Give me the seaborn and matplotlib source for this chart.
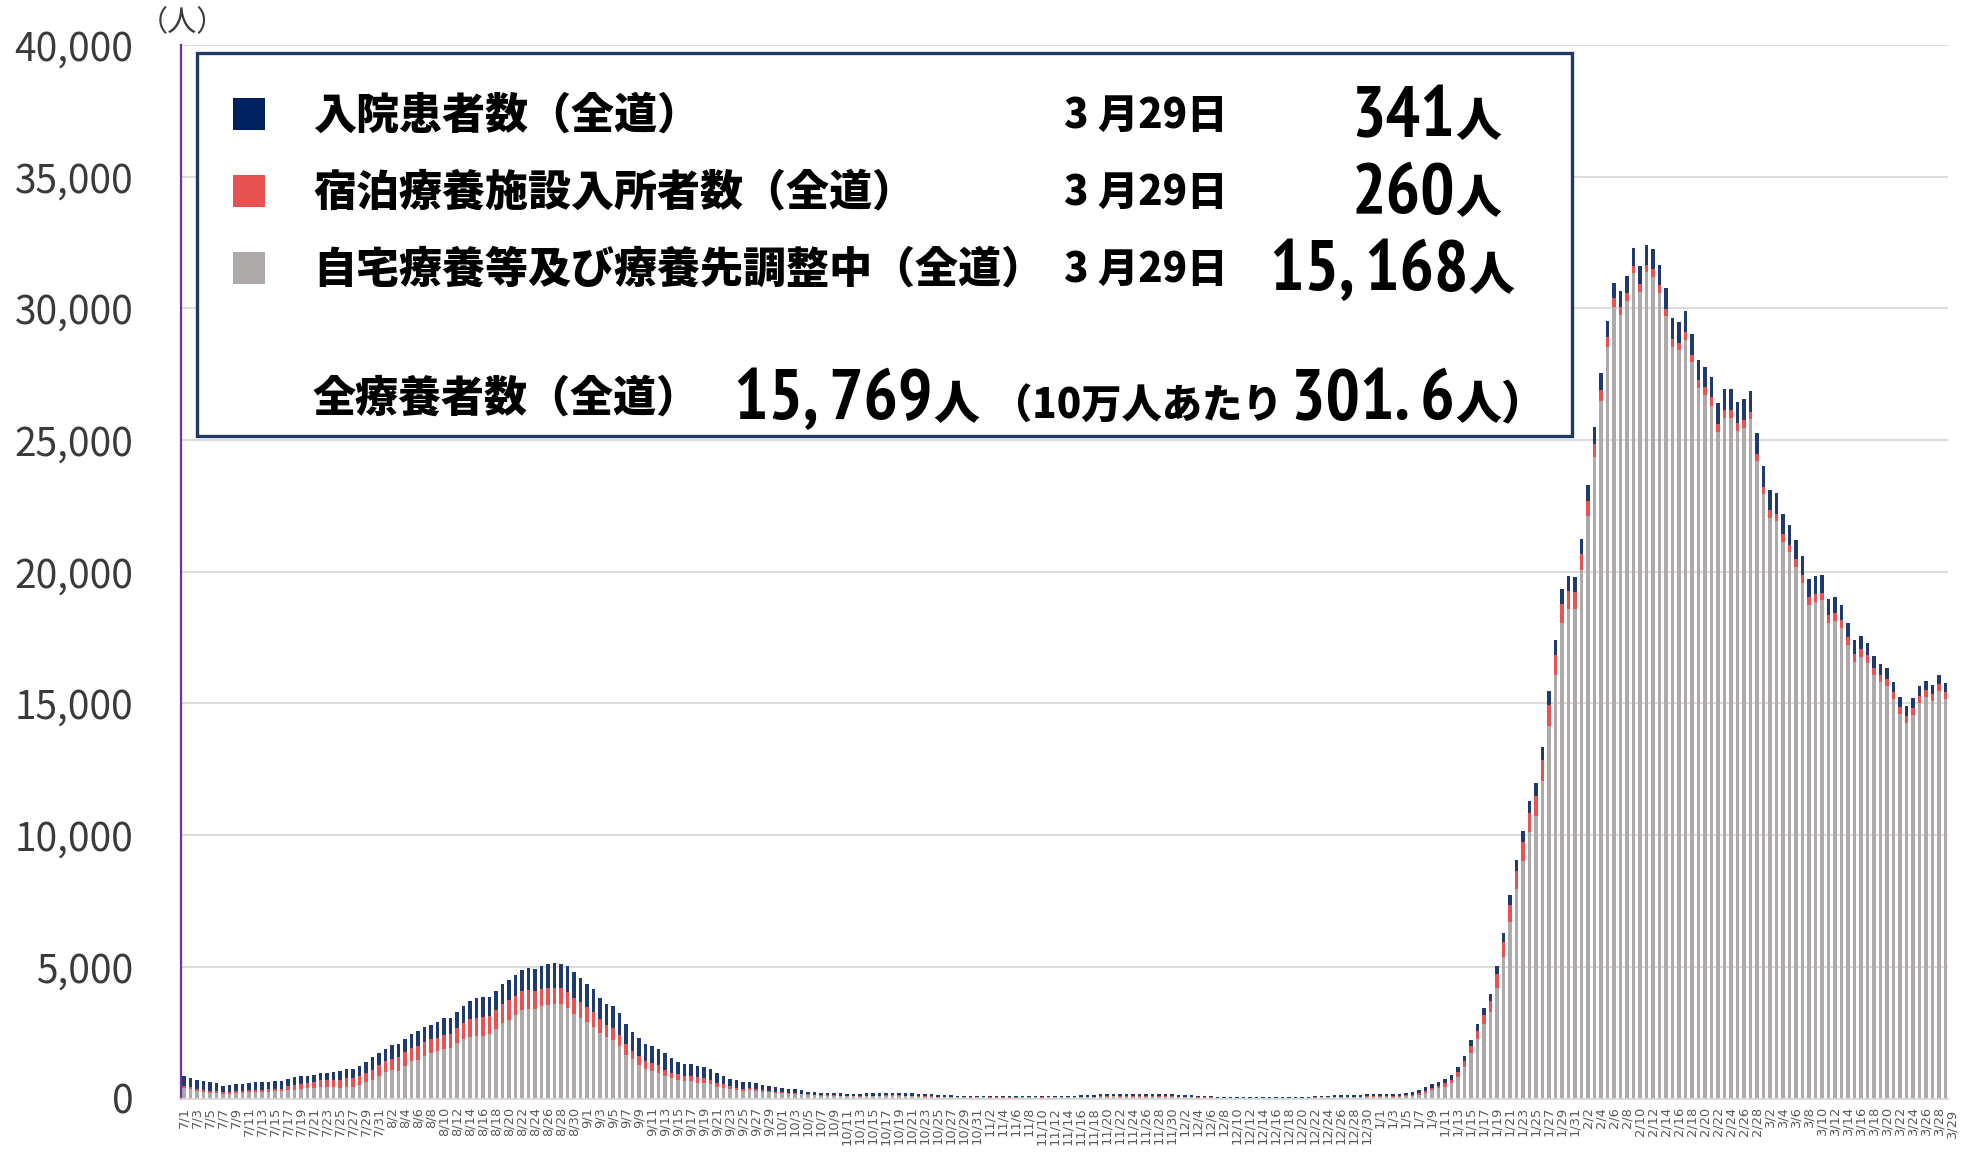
import matplotlib
matplotlib.use("Agg")
import matplotlib.pyplot as plt
import seaborn as sns
import pandas as pd
import numpy as np
from matplotlib.patches import Rectangle
from matplotlib import font_manager
from matplotlib.font_manager import FontProperties
from matplotlib.transforms import ScaledTranslation

# ---------------- data ----------------
dates = pd.date_range("2021-07-01", "2022-03-29", freq="D")
date_labels = [f"{d.month}/{d.day}" for d in dates]

# 入院患者数（全道）
hospital = [
    380, 354, 354, 342, 342, 316, 253, 279, 266, 266,
    291, 292, 291, 278, 279, 291, 279, 317, 304, 279,
    266, 291, 303, 341, 367, 367, 367, 380, 406, 481,
    469, 468, 519, 494, 519, 532, 569, 557, 532, 621,
    645, 607, 620, 645, 697, 760, 760, 696, 722, 760,
    772, 798, 811, 836, 849, 873, 936, 924, 936, 975,
    975, 911, 887, 861, 798, 810, 835, 836, 746, 697,
    684, 658, 646, 633, 633, 532, 469, 456, 455, 443,
    405, 430, 405, 304, 279, 292, 253, 241, 228, 190,
    178, 178, 164, 139, 139, 127, 101, 101, 88, 89,
    89, 89, 88, 88, 80, 90, 90, 90, 100, 100,
    100, 90, 90, 85, 75, 75, 68, 56, 56, 45,
    45, 38, 45, 45, 38, 38, 38, 37, 37, 42,
    42, 42, 36, 42, 42, 48, 48, 42, 54, 65,
    65, 70, 70, 82, 72, 72, 72, 72, 72, 72,
    72, 72, 70, 55, 55, 55, 44, 38, 38, 32,
    32, 32, 26, 26, 20, 20, 20, 20, 20, 20,
    26, 26, 32, 32, 44, 48, 48, 54, 54, 54,
    54, 64, 74, 74, 74, 74, 74, 74, 90, 100,
    130, 140, 150, 160, 170, 180, 190, 200, 220, 240,
    260, 280, 320, 350, 380, 420, 440, 460, 480, 500,
    520, 540, 560, 540, 560, 570, 600, 620, 630, 620,
    600, 620, 650, 680, 700, 740, 760, 780, 790, 800,
    800, 800, 790, 780, 760, 760, 780, 790, 800, 800,
    800, 800, 800, 790, 780, 770, 760, 750, 740, 720,
    700, 680, 660, 610, 590, 570, 540, 500, 470, 440,
    420, 400, 390, 380, 370, 370, 360, 360, 350, 350,
    345, 341,
]

# 宿泊療養施設入所者数（全道）
hotel = [
    76, 76, 64, 76, 75, 63, 63, 63, 63, 88,
    76, 76, 89, 102, 101, 101, 164, 177, 190, 202,
    228, 254, 266, 266, 304, 342, 342, 342, 367, 392,
    417, 393, 431, 532, 506, 494, 532, 532, 532, 506,
    532, 532, 570, 608, 671, 696, 709, 709, 708, 734,
    747, 747, 696, 696, 670, 671, 633, 620, 608, 620,
    620, 608, 581, 557, 531, 444, 456, 418, 406, 329,
    329, 304, 266, 266, 228, 227, 215, 215, 190, 203,
    203, 165, 140, 140, 114, 76, 76, 76, 64, 64,
    50, 37, 38, 38, 38, 25, 25, 25, 26, 25,
    25, 25, 13, 13, 15, 20, 20, 20, 20, 20,
    20, 20, 20, 17, 12, 12, 11, 8, 8, 6,
    6, 5, 6, 6, 6, 6, 7, 7, 7, 8,
    8, 9, 8, 9, 9, 10, 10, 9, 11, 14,
    14, 16, 16, 18, 15, 15, 15, 15, 15, 15,
    14, 14, 14, 11, 11, 10, 8, 7, 7, 6,
    6, 6, 5, 5, 4, 4, 4, 4, 4, 4,
    5, 5, 7, 7, 10, 12, 12, 14, 14, 14,
    14, 18, 22, 22, 22, 22, 22, 24, 40, 50,
    60, 75, 90, 100, 120, 150, 180, 220, 260, 300,
    340, 400, 500, 560, 620, 660, 700, 730, 760, 800,
    820, 780, 720, 700, 660, 610, 550, 500, 440, 370,
    330, 310, 300, 300, 300, 290, 280, 280, 280, 280,
    280, 280, 270, 270, 320, 320, 300, 300, 290, 290,
    290, 280, 260, 270, 280, 290, 290, 300, 300, 300,
    300, 300, 300, 300, 300, 300, 300, 300, 300, 300,
    290, 280, 280, 270, 270, 260, 260, 260, 260, 260,
    260, 260,
]

# 自宅療養等及び療養先調整中（全道）
home = [
    392, 342, 278, 240, 203, 203, 165, 177, 203, 203,
    228, 240, 240, 240, 266, 266, 304, 329, 354, 380,
    405, 430, 418, 418, 392, 430, 430, 506, 620, 684,
    836, 1025, 1076, 1038, 1241, 1405, 1456, 1608, 1709, 1785,
    1861, 1899, 2089, 2241, 2329, 2355, 2367, 2431, 2646, 2861,
    2988, 3152, 3367, 3405, 3393, 3494, 3545, 3583, 3570, 3418,
    3190, 3038, 2887, 2722, 2469, 2329, 2203, 2000, 1658, 1481,
    1266, 1114, 1063, 987, 873, 760, 709, 646, 646, 595,
    582, 544, 430, 392, 354, 316, 291, 316, 278, 240,
    228, 203, 190, 177, 165, 152, 127, 114, 101, 89,
    89, 76, 76, 76, 70, 80, 80, 80, 95, 95,
    95, 80, 80, 75, 65, 65, 60, 50, 50, 38,
    38, 33, 38, 38, 32, 32, 31, 32, 32, 39,
    39, 38, 32, 38, 38, 43, 43, 38, 49, 60,
    60, 66, 66, 77, 65, 65, 65, 65, 65, 65,
    66, 66, 68, 48, 48, 49, 37, 31, 31, 25,
    25, 25, 19, 19, 14, 14, 14, 14, 14, 14,
    19, 19, 24, 24, 35, 41, 41, 46, 46, 46,
    46, 57, 69, 69, 69, 69, 69, 67, 90, 100,
    150, 220, 310, 380, 450, 570, 815, 1200, 1740, 2275,
    2820, 3290, 4210, 5380, 6718, 7964, 9034, 10115, 10738, 12048,
    14139, 16072, 18069, 18587, 18585, 20060, 22133, 24359, 26475, 28533,
    30050, 29745, 30268, 31325, 30610, 31363, 31200, 30593, 29714, 28552,
    28421, 28813, 27963, 26995, 26704, 26312, 25312, 25846, 25846, 25346,
    25455, 25791, 24202, 22963, 22050, 21919, 21125, 20733, 20178, 19590,
    18740, 18847, 18910, 18069, 18133, 17870, 17204, 16592, 16774, 16543,
    16073, 15799, 15657, 15155, 14600, 14262, 14576, 15033, 15239, 15108,
    15483, 15168,
]

y_ticks = [0, 5000, 10000, 15000, 20000, 25000, 30000, 35000, 40000]

legend_names = ["入院患者数（全道）", "宿泊療養施設入所者数（全道）", "自宅療養等及び療養先調整中（全道）"]
legend_date = "3 月29日"
legend_values = ["341", "260", "15, 168"]
total_label = "全療養者数（全道）"
total_value = "15, 769"
per_100k_prefix = "（10万人あたり"
per_100k_value = "301. 6"

# ---------------- style ----------------
NAVY = "#1F3A6E"
NAVY_LEG = "#002060"
RED = "#E85252"
GRAY = "#AEAAAA"
BOX = "#203864"
XLAB = "#595959"

sns.set_theme(style="white")
plt.rcParams["font.family"] = ["Noto Sans CJK JP", "DejaVu Sans"]


def find_condensed_bold():
    cands = []
    wmap = {"bold": 700, "heavy": 800, "black": 900, "extra bold": 800,
            "demibold": 600, "semibold": 600}
    for f in font_manager.fontManager.ttflist:
        fn = f.fname.lower()
        nm = f.name.lower()
        if "dejavu" in fn or "cjk" in fn:
            continue
        txt = fn + " " + nm + " " + str(f.stretch).lower()
        if not ("narrow" in txt or "condensed" in txt):
            continue
        w = f.weight if isinstance(f.weight, int) else wmap.get(str(f.weight).lower(), 400)
        if w < 600 or f.style != "normal":
            continue
        if "narrow" in txt:
            rank = 0
        elif "semicondensed" in txt or "semi-condensed" in txt or "semi condensed" in txt:
            rank = 2
        elif "extracondensed" in txt or "extra-condensed" in txt or "ultra" in txt:
            rank = 3
        else:
            rank = 1
        cands.append((rank, abs(w - 700), f.fname))
    cands.sort()
    return cands[0][2] if cands else None


cond_path = find_condensed_bold()
if cond_path:
    BIG = FontProperties(fname=cond_path, size=52)
else:
    BIG = FontProperties(family="Liberation Sans", weight="bold", size=46)

W, H = 1972, 1159
fig = plt.figure(figsize=(W / 100, H / 100), dpi=100)
fig.patch.set_facecolor("white")
ax = fig.add_axes([180.5 / W, 1 - 1098.5 / H, (1948 - 180.5) / W, (1098.5 - 45) / H])

df = pd.DataFrame({"date": date_labels, "hospital": hospital, "hotel": hotel, "home": home})
df["top_hotel"] = df["home"] + df["hotel"]
df["top_all"] = df["top_hotel"] + df["hospital"]

common = dict(data=df, x="date", order=date_labels, width=0.5, saturation=1,
              errorbar=None, ax=ax, linewidth=0)
sns.barplot(y="top_all", color=NAVY, **common)
sns.barplot(y="top_hotel", color=RED, **common)
sns.barplot(y="home", color=GRAY, **common)

ax.set_xlim(-0.55, len(date_labels) - 1 + 0.4)
ax.set_ylim(0, 40000)
ax.set_xlabel("")
ax.set_ylabel("")

# x tick labels every other day, plus the final day squeezed in at the right edge
tick_idx = list(range(0, len(date_labels), 2))
ax.set_xticks(tick_idx)
XFS = 9.4
ax.set_xticklabels([date_labels[i] for i in tick_idx], rotation=90, fontsize=XFS,
                   color=XLAB, family="DejaVu Sans")
ax.tick_params(axis="x", length=0, pad=6)
last = len(date_labels) - 1
if last not in tick_idx:
    off = ScaledTranslation(6.5 / 100, -(6 + 2) / 72, fig.dpi_scale_trans)
    ax.text(last, 0, date_labels[last], transform=ax.get_xaxis_transform() + off,
            rotation=90, ha="center", va="top", fontsize=XFS, color=XLAB,
            family="DejaVu Sans", clip_on=False)

ax.set_yticks(y_ticks)
ax.set_yticklabels([f"{v:,}" for v in y_ticks], fontsize=28, color="#3A3A3A")
ax.tick_params(axis="y", length=0, pad=34)

ax.yaxis.grid(True, color="#D9D9D9", linewidth=1.3)
ax.xaxis.grid(False)
ax.set_axisbelow(True)
for s in ["top", "right"]:
    ax.spines[s].set_visible(False)
ax.spines["left"].set_color("#7030A0")
ax.spines["left"].set_linewidth(1.6)
ax.spines["bottom"].set_color("#D9D9D9")
ax.spines["bottom"].set_linewidth(1.3)


def T(x, y, s, **kw):
    kw.setdefault("zorder", 10)
    return fig.text(x / W, 1 - y / H, s, **kw)


T(182, 23, "（人）", ha="center", va="center", fontsize=21, color="#3A3A3A")

# legend box
fig.add_artist(Rectangle((197 / W, 1 - 436 / H), (1572 - 197) / W, (436 - 53) / H,
                         transform=fig.transFigure, facecolor="white", edgecolor=BOX,
                         linewidth=2.4, zorder=5))

rows = [116, 193, 270]
for yc, col in zip(rows, [NAVY_LEG, RED, GRAY]):
    fig.add_artist(Rectangle((233 / W, 1 - (yc - 2 + 16) / H), 32 / W, 32 / H,
                             transform=fig.transFigure, facecolor=col, edgecolor="none",
                             zorder=6))

lab_kw = dict(fontsize=31, fontweight="heavy", color="black", ha="left", va="center")
for yc, name in zip(rows, legend_names):
    T(313, yc, name, **lab_kw)
    T(1064, yc, legend_date, fontsize=29, fontweight="heavy",
      color="black", ha="left", va="center")

num_right = [1455, 1455, 1468]
for yc, val, xr in zip(rows, legend_values, num_right):
    T(xr, yc + 20, val, fontproperties=BIG, color="black", ha="right", va="baseline")
    T(xr, yc + 20, "人", fontsize=33, fontweight="heavy", color="black", ha="left",
      va="baseline")

r4 = 399
T(313, r4, total_label, **lab_kw)
T(933, r4 + 20, total_value, fontproperties=BIG, color="black", ha="right", va="baseline")
T(933, r4 + 20, "人", fontsize=33, fontweight="heavy", color="black", ha="left",
  va="baseline")
T(992, r4 + 20, per_100k_prefix, fontsize=29, fontweight="heavy",
  color="black", ha="left", va="baseline")
T(1455, r4 + 20, per_100k_value, fontproperties=BIG, color="black", ha="right",
  va="baseline")
T(1455, r4 + 20, "人）", fontsize=33, fontweight="heavy", color="black", ha="left",
  va="baseline")

fig.savefig("out.png", dpi=100, facecolor="white")
